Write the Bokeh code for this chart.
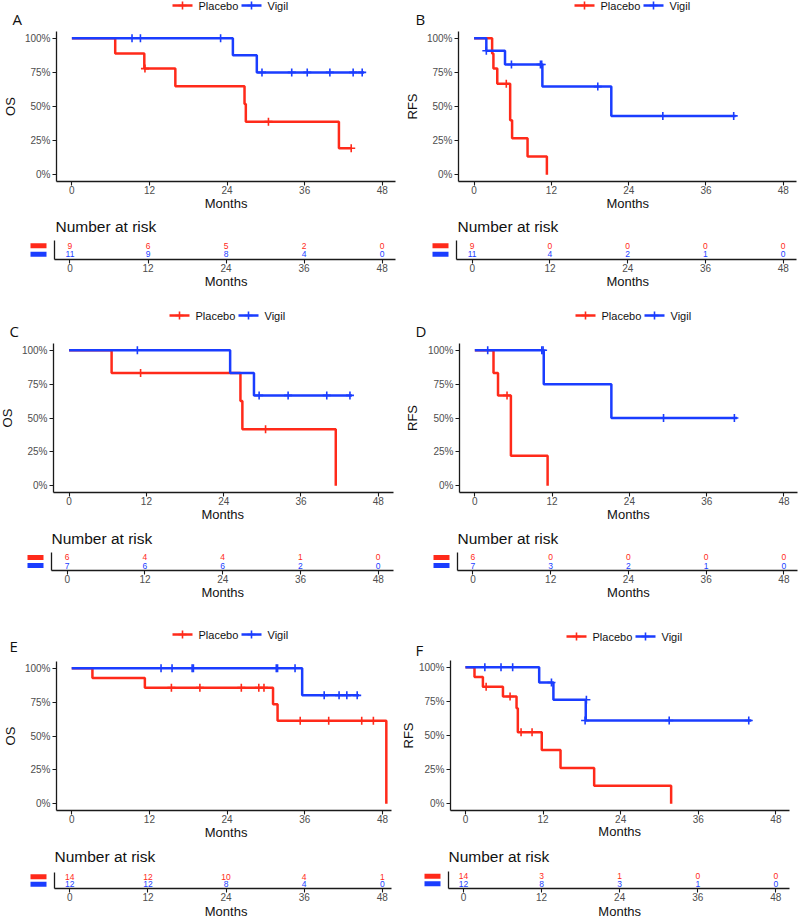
import math
from bokeh.plotting import figure
from bokeh.models import Range1d, FixedTicker, NumeralTickFormatter, Label
from bokeh.layouts import row, column
from bokeh.embed import file_html
from bokeh.resources import INLINE
from bokeh.core.properties import value

# ---------------- data ----------------
groups = ["Placebo", "Vigil"]
month_ticks = [0, 12, 24, 36, 48]
pct_ticks = [0, 0.25, 0.5, 0.75, 1.0]

# Panel A (OS)
A_placebo_t = [0, 6.7, 11.2, 16.0, 26.7, 26.9, 41.3, 43.2]
A_placebo_s = [1, 0.889, 0.778, 0.648, 0.519, 0.389, 0.194, 0.194]
A_placebo_ct = [11.3, 30.4, 43.2]
A_placebo_cs = [0.778, 0.389, 0.194]
A_vigil_t = [0, 24.9, 28.6, 45.2]
A_vigil_s = [1, 0.875, 0.75, 0.75]
A_vigil_ct = [9.3, 10.6, 23.0, 29.4, 34.0, 36.4, 39.9, 43.5, 44.9]
A_vigil_cs = [1, 1, 1, 0.75, 0.75, 0.75, 0.75, 0.75, 0.75]
A_risk_placebo = [9, 6, 5, 2, 0]
A_risk_vigil = [11, 9, 8, 4, 0]

# Panel B (RFS)
B_placebo_t = [0, 2.8, 3.0, 3.6, 5.6, 5.9, 8.3, 11.3]
B_placebo_s = [1, 0.889, 0.778, 0.667, 0.400, 0.267, 0.133, 0]
B_placebo_ct = [5.0]
B_placebo_cs = [0.667]
B_vigil_t = [0, 1.9, 4.8, 10.6, 21.3, 40.6]
B_vigil_s = [1, 0.909, 0.808, 0.646, 0.431, 0.431]
B_vigil_ct = [1.9, 5.8, 10.3, 10.5, 19.2, 29.3, 40.3]
B_vigil_cs = [0.909, 0.808, 0.808, 0.808, 0.646, 0.431, 0.431]
B_risk_placebo = [9, 0, 0, 0, 0]
B_risk_vigil = [11, 4, 2, 1, 0]

# Panel C (OS)
C_placebo_t = [0, 6.6, 26.6, 26.9, 41.4]
C_placebo_s = [1, 0.833, 0.625, 0.417, 0]
C_placebo_ct = [11.1, 30.5]
C_placebo_cs = [0.833, 0.417]
C_vigil_t = [0, 25.0, 28.7, 43.9]
C_vigil_s = [1, 0.833, 0.667, 0.667]
C_vigil_ct = [10.6, 29.5, 34.0, 40.0, 43.6]
C_vigil_cs = [1, 0.667, 0.667, 0.667, 0.667]
C_risk_placebo = [6, 4, 4, 1, 0]
C_risk_vigil = [7, 6, 6, 2, 0]

# Panel D (RFS)
D_placebo_t = [0, 2.9, 3.6, 5.6, 11.3]
D_placebo_s = [1, 0.833, 0.667, 0.222, 0]
D_placebo_ct = [5.0]
D_placebo_cs = [0.667]
D_vigil_t = [0, 10.7, 21.2, 40.7]
D_vigil_s = [1, 0.75, 0.5, 0.5]
D_vigil_ct = [2.0, 10.4, 10.6, 29.3, 40.3]
D_vigil_cs = [1, 1, 1, 0.5, 0.5]
D_risk_placebo = [6, 0, 0, 0, 0]
D_risk_vigil = [7, 3, 2, 1, 0]

# Panel E (OS)
E_placebo_t = [0, 3.2, 11.3, 31.1, 31.8, 48.6]
E_placebo_s = [1, 0.929, 0.857, 0.735, 0.612, 0]
E_placebo_ct = [15.4, 19.8, 26.2, 28.9, 29.7, 35.3, 39.7, 44.8, 46.6]
E_placebo_cs = [0.857, 0.857, 0.857, 0.857, 0.857, 0.612, 0.612, 0.612, 0.612]
E_vigil_t = [0, 35.6, 44.4]
E_vigil_s = [1, 0.8, 0.8]
E_vigil_ct = [13.8, 15.5, 18.6, 18.8, 31.6, 31.8, 34.5, 39.0, 41.3, 42.5, 44.1]
E_vigil_cs = [1, 1, 1, 1, 1, 1, 1, 0.8, 0.8, 0.8, 0.8]
E_risk_placebo = [14, 12, 10, 4, 1]
E_risk_vigil = [12, 12, 8, 4, 0]

# Panel F (RFS)
F_placebo_t = [0, 1.4, 2.7, 5.8, 7.9, 8.1, 11.8, 14.7, 19.9, 31.8]
F_placebo_s = [1, 0.929, 0.857, 0.786, 0.699, 0.524, 0.393, 0.262, 0.131, 0]
F_placebo_ct = [3.2, 6.9, 8.6, 10.3]
F_placebo_cs = [0.857, 0.786, 0.524, 0.524]
F_vigil_t = [0, 11.4, 13.6, 18.6, 44.2]
F_vigil_s = [1, 0.889, 0.762, 0.610, 0.610]
F_vigil_ct = [3.0, 5.5, 7.3, 13.3, 18.7, 18.5, 31.5, 43.8]
F_vigil_cs = [1, 1, 1, 0.889, 0.762, 0.610, 0.610, 0.610]
F_risk_placebo = [14, 3, 1, 0, 0]
F_risk_vigil = [12, 8, 3, 1, 0]

# ---------------- styling / layout ----------------
RED = "#FF2A1A"
BLUE = "#1A3DFF"
COLORS = [RED, BLUE]
FONT = "Liberation Sans"
AXIS_COL = "#1a1a1a"
TICK_COL = "#4d4d4d"
TXT_COL = "#111111"
COL_W = 400
AX_B = 33      # border reserved for y tick labels
X_B = 15       # border reserved for x tick labels
KEY_START = [118, 187]   # legend key offsets from the frame's left edge
KEY_LEN = 20
KEY_GAP = 6


def style_axis(ax, standoff):
    ax.axis_line_color = AXIS_COL
    ax.axis_line_width = 1.3
    ax.major_tick_line_color = AXIS_COL
    ax.major_tick_line_width = 1.1
    ax.major_tick_out = 4
    ax.major_tick_in = 0
    ax.minor_tick_out = 0
    ax.minor_tick_in = 0
    ax.major_label_text_font = FONT
    ax.major_label_text_font_size = "10px"
    ax.major_label_text_color = TICK_COL
    ax.major_label_standoff = standoff


def strip(width, height, x_range=None, bl=0, br=0, bb=0):
    if x_range is None:
        x_range = Range1d(0, width)
    f = figure(width=width, height=height, x_range=x_range,
               y_range=Range1d(0, height - bb), output_backend="svg",
               toolbar_location=None, min_border_left=bl, min_border_right=br,
               min_border_top=0, min_border_bottom=bb,
               x_axis_location=None, y_axis_location=None)
    for gr in f.grid:
        gr.visible = False
    f.outline_line_color = None
    return f


def txt(text, x, y, size, xu="data", yu="data", align="center", angle=0.0,
        font=FONT):
    return Label(x=x, y=y, x_units=xu, y_units=yu, text=text, text_font=font,
                 text_font_size=size, text_color=TXT_COL, text_align=align,
                 text_baseline="middle", angle=angle)


def make_panel(letter, ylabel, curves, risk, g):
    x0 = g["col_x0"]
    fl_loc = g["fl"] - x0                      # frame left inside column
    br = x0 + COL_W - g["fr"]                  # right border
    xr = g["xr"]
    wy = fl_loc - AX_B                         # width of y-label strip

    # ---- header: panel letter + legend
    hdr = strip(COL_W, g["hdr"])
    ly = g["leg_y"]
    ks = [fl_loc + k for k in KEY_START]
    hdr.segment(x0=ks, x1=[k + KEY_LEN for k in ks], y0=[ly] * len(groups),
                y1=[ly] * len(groups), line_color=COLORS, line_width=2.5)
    hdr.scatter(x=[k + KEY_LEN / 2 for k in ks], y=[ly] * len(groups),
                marker="cross", size=8, line_color=COLORS, line_width=1.6)
    hdr.text(x=[k + KEY_LEN + KEY_GAP for k in ks], y=[ly] * len(groups),
             text=groups, text_font=value(FONT), text_font_size="11px",
             text_color=TXT_COL, text_align="left", text_baseline="middle")
    hdr.add_layout(txt(letter, g["let_x"] - x0, g["let_y"], "15px",
                       align="left", font="Open Sans"))

    # ---- KM plot
    km_h = g["kfh"] + X_B
    km = figure(width=COL_W - wy, height=km_h, x_range=Range1d(*xr),
                y_range=Range1d(-0.05, 1.05), output_backend="svg",
                toolbar_location=None, min_border_left=AX_B, min_border_right=br,
                min_border_top=0, min_border_bottom=X_B)
    km.grid.visible = False
    km.outline_line_color = None
    km.xaxis.ticker = FixedTicker(ticks=month_ticks)
    km.yaxis.ticker = FixedTicker(ticks=pct_ticks)
    km.yaxis.formatter = NumeralTickFormatter(format="0%")
    style_axis(km.xaxis[0], 0)
    style_axis(km.yaxis[0], 2)
    for col, (t, s, ct, cs) in zip(COLORS, curves):
        km.step(t, s, mode="after", line_color=col, line_width=2.5)
        km.scatter(ct, cs, marker="cross", size=8, line_color=col,
                   line_width=1.6)

    ys = strip(wy, km_h, bb=X_B)
    ys.add_layout(txt(ylabel, g["ylx"] - x0, g["kfh"] / 2, "13px",
                      angle=math.pi / 2))

    # ---- middle strip: axis title + risk table title
    mid = strip(COL_W, g["mid"], Range1d(*xr), bl=fl_loc, br=br)
    mid.add_layout(txt("Months", 24, g["mo_y"], "13px"))
    mid.add_layout(txt("Number at risk", g["nar_dx"], g["nar_y"], "15.5px",
                       xu="screen", align="left"))

    # ---- risk table
    bw = fl_loc - 4
    rk_h = g["rfh"] + X_B
    rk = figure(width=COL_W - bw, height=rk_h, x_range=Range1d(*xr),
                y_range=Range1d(0.4, 2.6), output_backend="svg",
                toolbar_location=None, min_border_left=4, min_border_right=br,
                min_border_top=0, min_border_bottom=X_B)
    rk.grid.visible = False
    rk.outline_line_color = None
    rk.xaxis.ticker = FixedTicker(ticks=month_ticks)
    style_axis(rk.xaxis[0], 0)
    style_axis(rk.yaxis[0], 0)
    rk.yaxis.ticker = FixedTicker(ticks=[])
    rk.yaxis.major_tick_out = 0
    rk.yaxis.major_label_text_font_size = "0px"
    nrows = len(groups)
    for i, (col, counts) in enumerate(zip(COLORS, risk)):
        rk.text(x=month_ticks, y=[nrows - i] * len(month_ticks),
                text=[str(c) for c in counts], text_color=col,
                text_font=value(FONT), text_font_size="8.5px",
                text_align="center", text_baseline="middle")

    bf = figure(width=bw, height=rk_h, x_range=Range1d(-(bw - 12), 12),
                y_range=Range1d(0.4, 2.6), output_backend="svg",
                toolbar_location=None, min_border_left=0, min_border_right=0,
                min_border_top=0, min_border_bottom=X_B,
                x_axis_location=None, y_axis_location=None)
    for gr in bf.grid:
        gr.visible = False
    bf.outline_line_color = None
    bf.rect(x=[0] * nrows, y=[nrows - i for i in range(nrows)], width=16,
            height=5, width_units="screen", height_units="screen",
            fill_color=COLORS, line_color=None)

    # ---- footer: risk axis title
    ftr = strip(COL_W, g["ftr"], Range1d(*xr), bl=fl_loc, br=br)
    ftr.add_layout(txt("Months", 24, g["fmo_y"], "13px"))

    return column(row(hdr, spacing=0), row(ys, km, spacing=0), mid,
                  row(bf, rk, spacing=0), ftr, spacing=0)


geo = {
    "A": dict(col_x0=0, fl=54, fr=395, xr=(-2.38, 50.05), hdr=31, kfh=150,
              mid=44, rfh=19, ftr=26, leg_y=26, let_x=12, let_y=13,
              ylx=9.5, mo_y=37, nar_y=14, nar_dx=1, fmo_y=19),
    "B": dict(col_x0=400, fl=456, fr=796, xr=(-2.42, 50.05), hdr=31, kfh=150,
              mid=44, rfh=19, ftr=26, leg_y=26, let_x=415, let_y=13,
              ylx=411.7, mo_y=37, nar_y=14, nar_dx=1, fmo_y=19),
    "C": dict(col_x0=0, fl=51, fr=393, xr=(-2.42, 50.36), hdr=43, kfh=149,
              mid=45, rfh=18, ftr=15, leg_y=28, let_x=9, let_y=13,
              ylx=7, mo_y=38, nar_y=14, nar_dx=0, fmo_y=8),
    "D": dict(col_x0=400, fl=457, fr=797, xr=(-2.38, 50.1), hdr=43, kfh=149,
              mid=45, rfh=18, ftr=15, leg_y=28, let_x=415, let_y=13,
              ylx=412, mo_y=38, nar_y=14, nar_dx=0, fmo_y=8),
    "E": dict(col_x0=0, fl=54, fr=391, xr=(-2.35, 49.4), hdr=61, kfh=149,
              mid=47, rfh=16, ftr=15, leg_y=27, let_x=9, let_y=16,
              ylx=9.5, mo_y=40, nar_y=16, nar_dx=0, fmo_y=7.5),
    "F": dict(col_x0=400, fl=448, fr=789, xr=(-2.31, 50.1), hdr=60, kfh=150,
              mid=46, rfh=17, ftr=15, leg_y=24, let_x=415, let_y=11,
              ylx=407.5, mo_y=40, nar_y=15, nar_dx=0, fmo_y=7.5),
}

pA = make_panel("A", "OS",
                [(A_placebo_t, A_placebo_s, A_placebo_ct, A_placebo_cs),
                 (A_vigil_t, A_vigil_s, A_vigil_ct, A_vigil_cs)],
                [A_risk_placebo, A_risk_vigil], geo["A"])
pB = make_panel("B", "RFS",
                [(B_placebo_t, B_placebo_s, B_placebo_ct, B_placebo_cs),
                 (B_vigil_t, B_vigil_s, B_vigil_ct, B_vigil_cs)],
                [B_risk_placebo, B_risk_vigil], geo["B"])
pC = make_panel("C", "OS",
                [(C_placebo_t, C_placebo_s, C_placebo_ct, C_placebo_cs),
                 (C_vigil_t, C_vigil_s, C_vigil_ct, C_vigil_cs)],
                [C_risk_placebo, C_risk_vigil], geo["C"])
pD = make_panel("D", "RFS",
                [(D_placebo_t, D_placebo_s, D_placebo_ct, D_placebo_cs),
                 (D_vigil_t, D_vigil_s, D_vigil_ct, D_vigil_cs)],
                [D_risk_placebo, D_risk_vigil], geo["D"])
pE = make_panel("E", "OS",
                [(E_placebo_t, E_placebo_s, E_placebo_ct, E_placebo_cs),
                 (E_vigil_t, E_vigil_s, E_vigil_ct, E_vigil_cs)],
                [E_risk_placebo, E_risk_vigil], geo["E"])
pF = make_panel("F", "RFS",
                [(F_placebo_t, F_placebo_s, F_placebo_ct, F_placebo_cs),
                 (F_vigil_t, F_vigil_s, F_vigil_ct, F_vigil_cs)],
                [F_risk_placebo, F_risk_vigil], geo["F"])

p = column(row(pA, pB, spacing=0), row(pC, pD, spacing=0),
           row(pE, pF, spacing=0), spacing=0)

open("out.html", "w").write(file_html(p, INLINE))
